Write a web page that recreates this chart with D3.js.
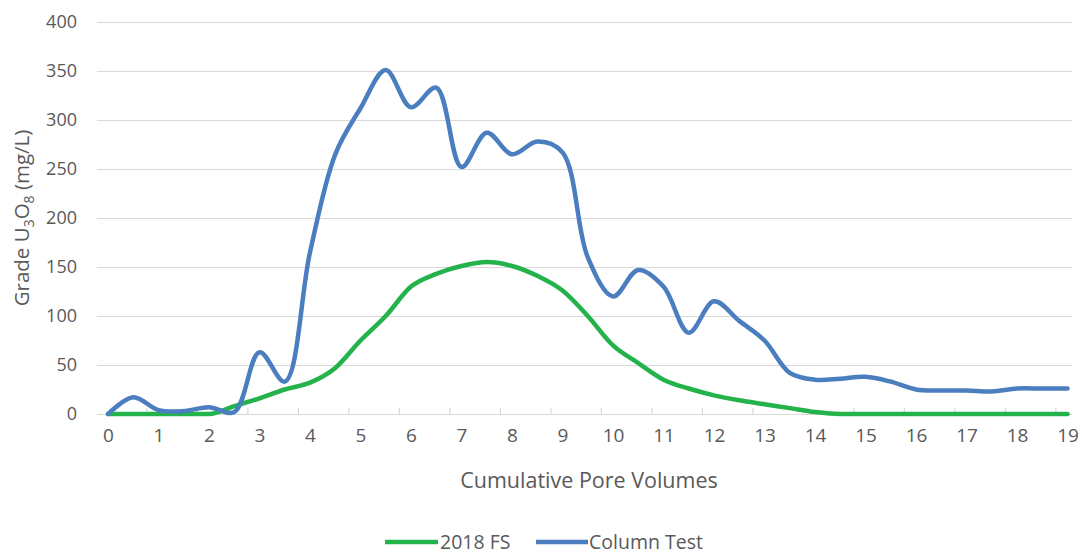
<!DOCTYPE html>
<html>
<head>
<meta charset="utf-8">
<script src="https://cdn.jsdelivr.net/npm/d3@7"></script>
<style>
  html, body { margin: 0; padding: 0; background: #fff; }
  svg { display: block; font-family: "Open Sans", "Noto Sans", sans-serif; }
</style>
</head>
<body>
<svg id="chart" width="1082" height="555"></svg>
<script>
// ---- data ----
const poreVolumes = [0, 0.5, 1, 1.5, 2, 2.5, 3, 3.5, 4, 4.5, 5, 5.5, 6, 6.5, 7, 7.5, 8, 8.5, 9, 9.5,
                     10, 10.5, 11, 11.5, 12, 12.5, 13, 13.5, 14, 14.5, 15, 15.5, 16, 16.5, 17, 17.5, 18, 18.5, 19];
const columnTest = [0, 17, 4, 3, 7, 2, 63, 33, 165, 265, 312, 351, 313, 333, 252, 287, 265, 278, 267, 160,
                    120, 147, 130, 83, 115, 95, 75, 42, 35, 36, 38, 33, 25, 24, 24, 23, 26, 26, 26];
const fs2018 = [0, 0, 0, 0, 0, 8, 16, 25, 32, 47, 75, 100, 130, 143, 151, 155, 151, 141, 126, 100,
                70, 52, 35, 26, 19, 14, 10, 6, 2, 0, 0, 0, 0, 0, 0, 0, 0, 0, 0];
const xTickLabels = [0, 1, 2, 3, 4, 5, 6, 7, 8, 9, 10, 11, 12, 13, 14, 15, 16, 17, 18, 19];
const yTickLabels = [0, 50, 100, 150, 200, 250, 300, 350, 400];
const seriesNames = ["2018 FS", "Column Test"];

// ---- layout ----
const svg = d3.select("#chart");
const colors = { fs: "#24b24b", col: "#4a7ebf" };
const textColor = "#595959";

const x = d3.scaleLinear().domain([0, 19]).range([108, 1067.5]);
const y = d3.scaleLinear().domain([0, 400]).range([414, 22]);
const gridX0 = x(-0.22), gridX1 = x(19.1);

// gridlines
const grid = svg.append("g").attr("transform", `translate(${gridX0},0)`)
  .call(d3.axisLeft(y).tickValues(yTickLabels).tickSize(-(gridX1 - gridX0)).tickFormat(""));
grid.select(".domain").remove();
grid.selectAll("line").attr("stroke", "#d9d9d9").attr("stroke-width", 1.2);

// y axis labels
const yAxis = svg.append("g").attr("transform", "translate(77,0)")
  .call(d3.axisLeft(y).tickValues(yTickLabels).tickSize(0).tickPadding(0));
yAxis.select(".domain").remove();
yAxis.selectAll("text").attr("fill", textColor).style("font-size", "18px")
  .style("font-family", "'Open Sans', sans-serif");

// x axis labels
const xAxis = svg.append("g").attr("transform", "translate(0,428)")
  .call(d3.axisBottom(x).tickValues(xTickLabels).tickSize(0).tickPadding(0).tickFormat(d3.format("d")));
xAxis.select(".domain").remove();
xAxis.selectAll("text").attr("fill", textColor).style("font-size", "19px")
  .style("font-family", "'Open Sans', sans-serif");

// x tick marks (slightly left of labels, as in the reference)
svg.append("g").selectAll("line").data(xTickLabels.slice(1)).join("line")
  .attr("x1", d => x(d - 0.23)).attr("x2", d => x(d - 0.23))
  .attr("y1", y(0) - 6).attr("y2", y(0))
  .attr("stroke", "#d9d9d9").attr("stroke-width", 1.2);

// lines
const mk = (vals, curve) => d3.line()
  .x((d, i) => x(poreVolumes[i]))
  .y(d => y(d))
  .curve(curve)(vals);

svg.append("path").attr("d", mk(fs2018, d3.curveMonotoneX))
  .attr("fill", "none").attr("stroke", colors.fs).attr("stroke-width", 4.5)
  .attr("stroke-linejoin", "round").attr("stroke-linecap", "round");
svg.append("path").attr("d", mk(columnTest, d3.curveCatmullRom.alpha(0.5)))
  .attr("fill", "none").attr("stroke", colors.col).attr("stroke-width", 4.5)
  .attr("stroke-linejoin", "round").attr("stroke-linecap", "round");

// axis titles
svg.append("text").attr("x", 589).attr("y", 488).attr("text-anchor", "middle")
  .attr("fill", textColor).style("font-size", "21.5px").text("Cumulative Pore Volumes");

const yt = svg.append("text").attr("transform", "translate(29,218) rotate(-90)")
  .attr("text-anchor", "middle").attr("fill", textColor).style("font-size", "20.5px");
yt.append("tspan").text("Grade U");
yt.append("tspan").attr("dy", 5).style("font-size", "14px").text("3");
yt.append("tspan").attr("dy", -5).text("O");
yt.append("tspan").attr("dy", 5).style("font-size", "14px").text("8");
yt.append("tspan").attr("dy", -5).text(" (mg/L)");

// legend
const legendItems = [
  { name: seriesNames[0], color: colors.fs, x0: 385, x1: 438, tx: 440 },
  { name: seriesNames[1], color: colors.col, x0: 536, x1: 588, tx: 589 }
];
const lg = svg.append("g");
legendItems.forEach(it => {
  lg.append("line").attr("x1", it.x0).attr("x2", it.x1).attr("y1", 542).attr("y2", 542)
    .attr("stroke", it.color).attr("stroke-width", 4.5);
  lg.append("text").attr("x", it.tx).attr("y", 542).attr("dy", "0.35em")
    .attr("fill", textColor).style("font-size", "19.5px").text(it.name);
});
</script>
</body>
</html>
